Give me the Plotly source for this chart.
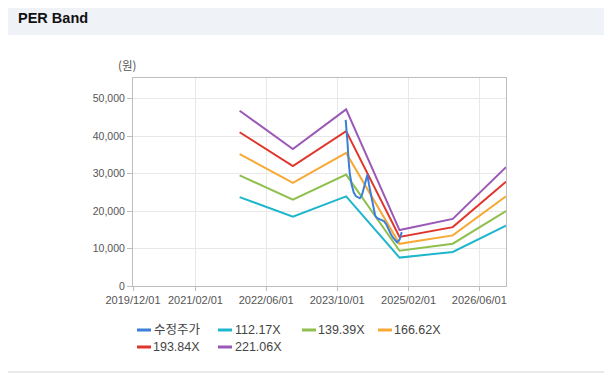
import plotly.graph_objects as go

# ---------------- data ----------------
band_dates = ["2021-12-01", "2022-12-01", "2023-12-01", "2024-12-01", "2025-12-01", "2026-12-01"]
band_names = ["112.17X", "139.39X", "166.62X", "193.84X", "221.06X"]
band_112 = [23700, 18500, 23900, 7570, 9090, 16100]
band_139 = [29500, 23000, 29700, 9410, 11290, 20000]
band_166 = [35200, 27500, 35500, 11250, 13500, 23900]
band_193 = [41000, 32000, 41300, 13080, 15700, 27800]
band_221 = [46750, 36500, 47100, 14920, 17900, 31700]

price_name = "수정주가"
price_dates = ["2023-11-28", "2023-12-04", "2023-12-11", "2023-12-18", "2023-12-26",
               "2024-01-08", "2024-01-22", "2024-02-05", "2024-02-19", "2024-03-04",
               "2024-03-18", "2024-04-01", "2024-04-15", "2024-04-25", "2024-05-06",
               "2024-05-20", "2024-06-03", "2024-06-17", "2024-07-01", "2024-07-15",
               "2024-08-01", "2024-08-16", "2024-09-02", "2024-09-16", "2024-10-01",
               "2024-10-15", "2024-11-01", "2024-11-15", "2024-12-02", "2024-12-16"]
price_vals = [44300, 42000, 38000, 33500, 30000,
              27000, 25000, 24000, 23600, 23400,
              24200, 26500, 28500, 29700, 27000,
              24000, 21000, 18800, 18100, 17800,
              17600, 17300, 16400, 15100, 14000,
              13000, 12200, 11600, 12400, 14400]

tick_vals = ["2019-12-01", "2021-02-01", "2022-06-01", "2023-10-01", "2025-02-01", "2026-06-01"]
tick_text = ["2019/12/01", "2021/02/01", "2022/06/01", "2023/10/01", "2025/02/01", "2026/06/01"]
y_ticks = [0, 10000, 20000, 30000, 40000, 50000]

colors = {
    "수정주가": "#3c7fd8",
    "112.17X": "#1eb6cc",
    "139.39X": "#8fbf4c",
    "166.62X": "#f7a934",
    "193.84X": "#e0352b",
    "221.06X": "#9b59b6",
}

# ---------------- layout geometry (screen px) ----------------
W, H = 612, 382
OFF = 8  # page body margin
L, R, T, B = 133, 506, 78, 286   # plot area in screen pixels
PW, PH = R - L, B - T


def px2x(px):
    return (px - L) / PW


def px2y(py):
    return (B - py) / PH


fig = go.Figure()

band_series = [band_112, band_139, band_166, band_193, band_221]
for name, vals in zip(band_names, band_series):
    fig.add_trace(go.Scatter(x=band_dates, y=vals, mode="lines", name=name,
                             line=dict(color=colors[name], width=2),
                             showlegend=False))

fig.add_trace(go.Scatter(x=price_dates, y=price_vals, mode="lines", name=price_name,
                         line=dict(color=colors[price_name], width=2),
                         showlegend=False))

font_family = "Liberation Sans, Arial, Noto Sans CJK KR, sans-serif"

fig.update_layout(
    width=W, height=H,
    margin=dict(l=L - OFF, r=W - (R - OFF), t=T - OFF, b=H - (B - OFF), pad=0),
    paper_bgcolor="white", plot_bgcolor="white",
    font=dict(family=font_family, size=11, color="#555555"),
    showlegend=False,
    xaxis=dict(
        type="date",
        range=["2019-12-01", "2026-12-01"],
        tickvals=tick_vals, ticktext=tick_text,
        tickfont=dict(size=11, color="#555555"),
        showgrid=True, gridcolor="#e8e8e8", gridwidth=1,
        showline=True, linecolor="#bdbdbd", linewidth=1, mirror=True,
        ticks="outside", ticklen=4, tickcolor="#bdbdbd",
        zeroline=False,
    ),
    yaxis=dict(
        range=[0, 55470],
        tickvals=y_ticks,
        tickformat=",d",
        tickfont=dict(size=10.5, color="#555555"),
        showgrid=True, gridcolor="#e8e8e8", gridwidth=1,
        showline=True, linecolor="#bdbdbd", linewidth=1, mirror=True,
        ticks="outside", ticklen=5, tickcolor="#bdbdbd",
        zeroline=False,
    ),
)

shapes = []
annotations = []

# header band
shapes.append(dict(type="rect", xref="paper", yref="paper",
                   x0=px2x(3), x1=px2x(608), y0=px2y(35), y1=px2y(3),
                   fillcolor="#eff2f7", line=dict(width=0), layer="below"))
annotations.append(dict(text="<b>PER Band</b>", xref="paper", yref="paper",
                        x=px2x(16), y=px2y(18), xanchor="left", yanchor="middle",
                        showarrow=False,
                        font=dict(size=14.5, color="#111111",
                                  family="Liberation Sans, Arial, sans-serif")))
# bottom rule
shapes.append(dict(type="line", xref="paper", yref="paper",
                   x0=px2x(3), x1=px2x(608), y0=px2y(372), y1=px2y(372),
                   line=dict(color="#d4d4d4", width=1)))

# unit label
annotations.append(dict(text="(원)", xref="paper", yref="paper",
                        x=px2x(127), y=px2y(65), xanchor="center", yanchor="middle",
                        showarrow=False,
                        font=dict(size=11.5, color="#555555",
                                  family="Noto Sans CJK KR, sans-serif")))

# manual legend
legend_items = [
    (price_name, 137, 151, 153, 330),
    ("112.17X", 218, 232, 234, 330),
    ("139.39X", 302, 316, 317, 330),
    ("166.62X", 378, 392, 393, 330),
    ("193.84X", 137, 151, 152, 347),
    ("221.06X", 218, 232, 234, 347),
]
for name, lx0, lx1, tx, ty in legend_items:
    shapes.append(dict(type="line", xref="paper", yref="paper",
                       x0=px2x(lx0), x1=px2x(lx1), y0=px2y(ty), y1=px2y(ty),
                       line=dict(color=colors[name], width=3)))
    annotations.append(dict(text=name, xref="paper", yref="paper",
                            x=px2x(tx), y=px2y(ty), xanchor="left", yanchor="middle",
                            showarrow=False, borderpad=0,
                            font=dict(size=12.5, color="#444444",
                                      family="Liberation Sans, Arial, Noto Sans CJK KR, sans-serif")))

fig.update_layout(shapes=shapes, annotations=annotations)

fig.write_html("out.html")
